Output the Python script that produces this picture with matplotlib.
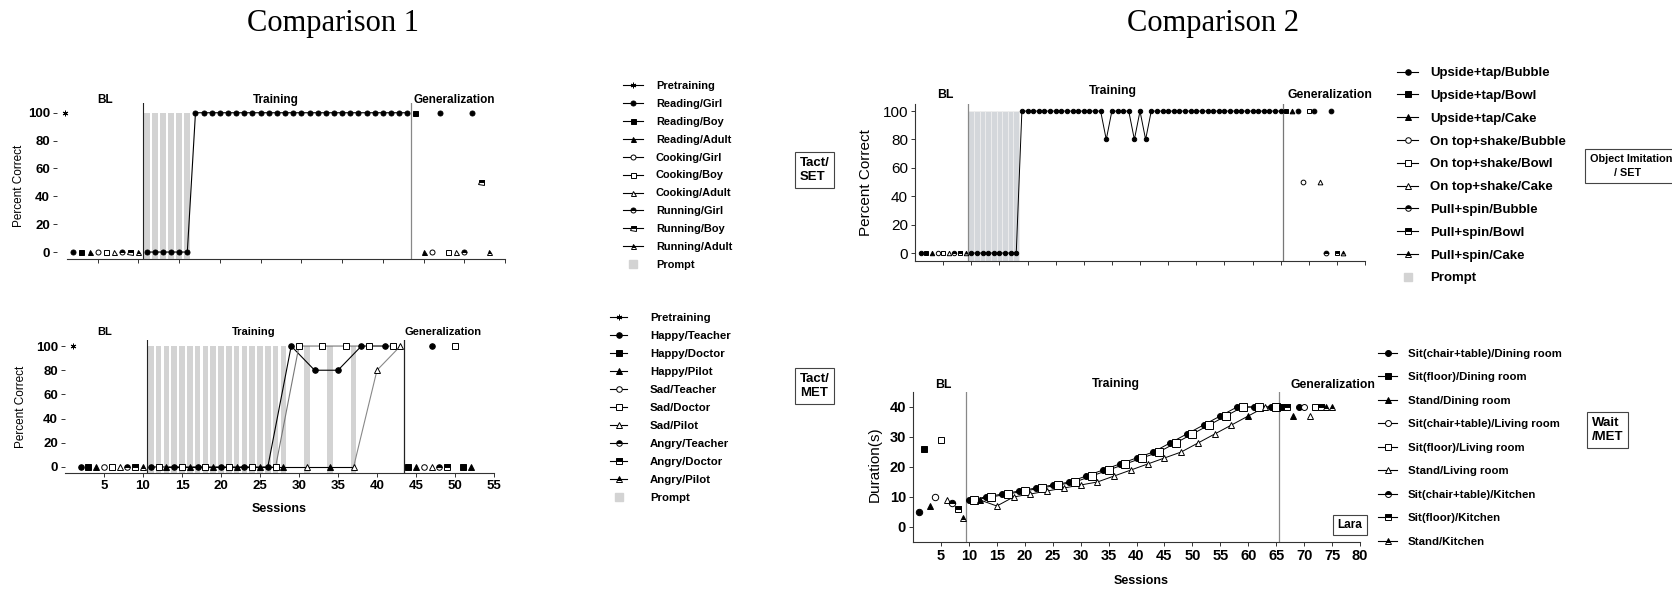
import matplotlib
matplotlib.use('Agg')
import matplotlib.pyplot as plt
from matplotlib.lines import Line2D

plt.rcParams['font.family'] = ['Liberation Sans', 'DejaVu Sans']
SANS = ['Liberation Sans', 'DejaVu Sans']
SERIF = ['Liberation Serif', 'DejaVu Serif']

W, H = 1672, 589
def fx(p): return p / W
def fy(p): return 1 - p / H

# ---------------- marker conventions (index per condition) ----------------
MARK = ['o', 's', '^', 'o', 's', '^', 'o', 's', '^']
FILL = ['full', 'full', 'full', 'none', 'none', 'none', 'half', 'half', 'half']
PROMPT_C = '#d3d3d3'

# ================= Comparison 1 - top (Tact/SET) =================
c1a_labels = ['Pretraining', 'Reading/Girl', 'Reading/Boy', 'Reading/Adult', 'Cooking/Girl',
              'Cooking/Boy', 'Cooking/Adult', 'Running/Girl', 'Running/Boy', 'Running/Adult', 'Prompt']
c1a_pre_x = [1]
c1a_pre_y = [100]
c1a_bl_x = [2, 3, 4, 5, 6, 7, 8, 9, 10]
c1a_bl_y = [0, 0, 0, 0, 0, 0, 0, 0, 0]
c1a_bl_c = [0, 1, 2, 3, 4, 5, 6, 7, 8]
c1a_tr_x = [11, 12, 13, 14, 15, 16, 17, 18, 19, 20, 21, 22, 23, 24, 25, 26, 27, 28, 29, 30,
            31, 32, 33, 34, 35, 36, 37, 38, 39, 40, 41, 42, 43]
c1a_tr_y = [0, 0, 0, 0, 0, 0, 100, 100, 100, 100, 100, 100, 100, 100, 100, 100, 100, 100, 100, 100,
            100, 100, 100, 100, 100, 100, 100, 100, 100, 100, 100, 100, 100]
c1a_gen_x = [44, 45, 46, 47, 48, 49, 50, 51, 52, 53]
c1a_gen_y = [100, 0, 0, 100, 0, 0, 0, 100, 50, 0]
c1a_gen_c = [1, 2, 3, 0, 4, 5, 6, 0, 7, 8]
c1a_prompt = [11, 12, 13, 14, 15, 16]

# ================= Comparison 1 - bottom (Tact/MET) =================
c1b_labels = ['Pretraining', 'Happy/Teacher', 'Happy/Doctor', 'Happy/Pilot', 'Sad/Teacher',
              'Sad/Doctor', 'Sad/Pilot', 'Angry/Teacher', 'Angry/Doctor', 'Angry/Pilot', 'Prompt']
c1b_pre_x = [1]
c1b_pre_y = [100]
c1b_bl_x = [2, 3, 4, 5, 6, 7, 8, 9, 10]
c1b_bl_y = [0, 0, 0, 0, 0, 0, 0, 0, 0]
c1b_bl_c = [0, 1, 2, 3, 4, 5, 6, 7, 8]
c1b_ht_x = [11, 14, 17, 20, 23, 26, 29, 32, 35, 38, 41]
c1b_ht_y = [0, 0, 0, 0, 0, 0, 100, 80, 80, 100, 100]
c1b_sd_x = [12, 15, 18, 21, 24, 27, 30, 33, 36, 39, 42]
c1b_sd_y = [0, 0, 0, 0, 0, 0, 100, 100, 100, 100, 100]
c1b_pl_x = [13, 16, 19, 22, 25, 28, 31, 34, 37, 40, 43]
c1b_pl_y = [0, 0, 0, 0, 0, 0, 0, 0, 0, 80, 100]
c1b_pl_c = [2, 2, 2, 2, 2, 2, 5, 2, 5, 5, 5]
c1b_gen_x = [44, 45, 46, 47, 47, 48, 49, 50, 51, 52]
c1b_gen_y = [0, 0, 0, 0, 100, 0, 0, 100, 0, 0]
c1b_gen_c = [1, 2, 3, 5, 0, 6, 7, 4, 1, 2]
c1b_prompt = [11, 12, 13, 14, 15, 16, 17, 18, 19, 20, 21, 22, 23, 24, 25, 26, 27, 28, 31, 34, 37]

# ================= Comparison 2 - top (Object Imitation / SET) =================
c2a_labels = ['Upside+tap/Bubble', 'Upside+tap/Bowl', 'Upside+tap/Cake', 'On top+shake/Bubble',
              'On top+shake/Bowl', 'On top+shake/Cake', 'Pull+spin/Bubble', 'Pull+spin/Bowl',
              'Pull+spin/Cake', 'Prompt']
c2a_bl_x = [1, 2, 3, 4, 5, 6, 7, 8, 9]
c2a_bl_y = [0, 0, 0, 0, 0, 0, 0, 0, 0]
c2a_bl_c = [0, 1, 2, 3, 4, 5, 6, 7, 8]
c2a_tr_x = [10, 11, 12, 13, 14, 15, 16, 17, 18, 19, 20, 21, 22, 23, 24, 25, 26, 27, 28, 29,
            30, 31, 32, 33, 34, 35, 36, 37, 38, 39, 40, 41, 42, 43, 44, 45, 46, 47, 48, 49,
            50, 51, 52, 53, 54, 55, 56, 57, 58, 59, 60, 61, 62, 63, 64, 65]
c2a_tr_y = [0, 0, 0, 0, 0, 0, 0, 0, 0, 100, 100, 100, 100, 100, 100, 100, 100, 100, 100, 100,
            100, 100, 100, 100, 80, 100, 100, 100, 100, 80, 100, 80, 100, 100, 100, 100, 100, 100, 100, 100,
            100, 100, 100, 100, 100, 100, 100, 100, 100, 100, 100, 100, 100, 100, 100, 100]
c2a_gen_x = [66, 67, 68, 69, 70, 71, 72, 73, 74, 75, 76]
c2a_gen_y = [100, 100, 100, 50, 100, 100, 50, 0, 100, 0, 0]
c2a_gen_c = [1, 2, 0, 3, 4, 0, 5, 6, 0, 7, 8]
c2a_prompt = [10, 11, 12, 13, 14, 15, 16, 17, 18]

# ================= Comparison 2 - bottom (Wait / MET) =================
c2b_labels = ['Sit(chair+table)/Dining room', 'Sit(floor)/Dining room', 'Stand/Dining room',
              'Sit(chair+table)/Living room', 'Sit(floor)/Living room', 'Stand/Living room',
              'Sit(chair+table)/Kitchen', 'Sit(floor)/Kitchen', 'Stand/Kitchen']
c2b_bl_x = [1, 2, 3, 4, 5, 6, 7, 8, 9]
c2b_bl_y = [5, 26, 7, 10, 29, 9, 8, 6, 3]
c2b_bl_c = [0, 1, 2, 3, 4, 5, 6, 7, 8]
c2b_ct_x = [10, 13, 16, 19, 22, 25, 28, 31, 34, 37, 40, 43, 46, 49, 52, 55, 58, 61, 64]
c2b_ct_y = [9, 10, 11, 12, 13, 14, 15, 17, 19, 21, 23, 25, 28, 31, 34, 37, 40, 40, 40]
c2b_fl_x = [11, 14, 17, 20, 23, 26, 29, 32, 35, 38, 41, 44, 47, 50, 53, 56, 59, 62, 65]
c2b_fl_y = [9, 10, 11, 12, 13, 14, 15, 17, 19, 21, 23, 25, 28, 31, 34, 37, 40, 40, 40]
c2b_st_x = [12, 15, 18, 21, 24, 27, 30, 33, 36, 39, 42, 45, 48, 51, 54, 57, 60, 63]
c2b_st_y = [9, 7, 10, 11, 12, 13, 14, 15, 17, 19, 21, 23, 25, 28, 31, 34, 37, 40]
c2b_st_c = [2, 5, 5, 5, 5, 5, 5, 5, 5, 5, 5, 5, 5, 5, 5, 5, 2, 5]
c2b_gen_x = [66, 67, 68, 69, 70, 71, 72, 73, 74, 75]
c2b_gen_y = [40, 40, 37, 40, 40, 37, 40, 40, 40, 40]
c2b_gen_c = [1, 7, 2, 0, 3, 5, 4, 7, 8, 8]


def style(c, ms, mew=0.7):
    st = dict(marker=MARK[c], ms=ms, mec='k', mew=mew)
    if FILL[c] == 'full':
        st['mfc'] = 'k'
    elif FILL[c] == 'none':
        st['mfc'] = 'w'
    else:
        st.update(mfc='k', fillstyle='top', markerfacecoloralt='w')
    return st


def points(ax, xs, ys, cs, ms):
    for x, y, c in zip(xs, ys, cs):
        ax.plot([x], [y], ls='none', zorder=5, clip_on=False, **style(c, ms))


def line_with(ax, xs, ys, cs, ms, color='k', lw=0.8):
    ax.plot(xs, ys, '-', color=color, lw=lw, zorder=3, clip_on=False)
    points(ax, xs, ys, cs, ms)


def handle(c, ms):
    return Line2D([0], [0], color='k', lw=0.8, **style(c, ms))


def pre_handle(ms):
    return Line2D([0], [0], color='k', lw=0.8, marker=(6, 2, 0), ms=ms, mew=0.7)


def prompt_handle(ms):
    return Line2D([0], [0], ls='none', marker='s', ms=ms, color=PROMPT_C, mec=PROMPT_C)


def setup(rect, xlim, ylim, left_spine):
    ax = fig.add_axes(rect)
    ax.set_xlim(*xlim)
    ax.set_ylim(*ylim)
    for s in ('top', 'right'):
        ax.spines[s].set_visible(False)
    ax.spines['left'].set_visible(left_spine)
    for s in ('left', 'bottom'):
        ax.spines[s].set_linewidth(0.8)
        ax.spines[s].set_color('#333333')
    ax.tick_params(direction='out', length=3, width=0.7, color='#333333', pad=2)
    ax.set_facecolor('none')
    return ax


def legend(hs, labels, x, y, size, hl, pad, ls):
    fig.legend(hs, labels, loc='upper left', bbox_to_anchor=(fx(x), fy(y)), frameon=False,
               borderpad=0, borderaxespad=0, handlelength=hl, handletextpad=pad, labelspacing=ls,
               prop=dict(weight='bold', size=size, family=SANS))


fig = plt.figure(figsize=(W / 100, H / 100), dpi=100)

fig.text(fx(333), fy(23), 'Comparison 1', ha='center', va='center', fontsize=22, family=SERIF)
fig.text(fx(1213), fy(23), 'Comparison 2', ha='center', va='center', fontsize=22, family=SERIF)

# ---------------- Comparison 1 top ----------------
ax = setup([fx(57), fy(259), 448 / W, 156 / H], (0, 55), (-5, 107), False)
ax.spines['bottom'].set_bounds(1.2, 55)
ax.bar(c1a_prompt, [100 + 5] * len(c1a_prompt), bottom=-5, width=0.72, color=PROMPT_C, zorder=1)
ax.axvline(10.5, color='#222222', lw=0.8, zorder=2)
ax.axvline(43.5, color='#888888', lw=0.9, zorder=2)
ax.plot(c1a_pre_x, c1a_pre_y, ls='none', marker=(6, 2, 0), ms=4, color='k', mew=0.7)
points(ax, c1a_bl_x, c1a_bl_y, c1a_bl_c, 3.6)
line_with(ax, c1a_tr_x, c1a_tr_y, [0] * len(c1a_tr_x), 3.6)
points(ax, c1a_gen_x, c1a_gen_y, c1a_gen_c, 3.6)
ax.set_xticks([5, 10, 15, 20, 25, 30, 35, 40, 45, 50, 55])
ax.set_xticklabels([])
ax.set_yticks([0, 20, 40, 60, 80, 100])
ax.set_yticklabels(['0', '20', '40', '60', '80', '100'], fontweight='bold', fontsize=9.5)
ax.set_ylabel('Percent Correct', fontsize=8.5, family=SANS)
ax.yaxis.set_label_coords(-0.072, 0.47)
for t, x in (('BL', 5.9), ('Training', 26.9), ('Generalization', 48.8)):
    ax.text(x, 109.5, t, ha='center', va='center', fontsize=8.5, fontweight='bold', clip_on=False)
hs = [pre_handle(4)] + [handle(c, 3.6) for c in range(9)] + [prompt_handle(6)]
legend(hs, c1a_labels, 623, 81, 7.9, 1.8, 1.2, 0.72)

# ---------------- Comparison 1 bottom ----------------
ax = setup([fx(65), fy(473), 429 / W, 133 / H], (0, 55), (-5, 105), False)
ax.bar(c1b_prompt, [100 + 5] * len(c1b_prompt), bottom=-5, width=0.72, color=PROMPT_C, zorder=1)
ax.axvline(10.5, color='#222222', lw=0.8, zorder=2)
ax.axvline(43.5, color='#222222', lw=0.9, zorder=2)
ax.plot(c1b_pre_x, c1b_pre_y, ls='none', marker=(6, 2, 0), ms=4, color='k', mew=0.7)
points(ax, c1b_bl_x, c1b_bl_y, c1b_bl_c, 4)
line_with(ax, c1b_ht_x, c1b_ht_y, [0] * len(c1b_ht_x), 4, color='k')
line_with(ax, c1b_sd_x, c1b_sd_y, [4] * len(c1b_sd_x), 4.6, color='#777777')
ax.plot(c1b_pl_x[:9], c1b_pl_y[:9], '-', color='k', lw=0.8, zorder=3)
ax.plot(c1b_pl_x[8:], c1b_pl_y[8:], '-', color='#888888', lw=0.8, zorder=3)
points(ax, c1b_pl_x, c1b_pl_y, c1b_pl_c, 4)
points(ax, c1b_gen_x, c1b_gen_y, c1b_gen_c, 4)
ax.set_xticks([5, 10, 15, 20, 25, 30, 35, 40, 45, 50, 55])
ax.set_xticklabels(['5', '10', '15', '20', '25', '30', '35', '40', '45', '50', '55'],
                   fontweight='bold', fontsize=9.5)
ax.set_yticks([0, 20, 40, 60, 80, 100])
ax.set_yticklabels(['0', '20', '40', '60', '80', '100'], fontweight='bold', fontsize=9.5)
ax.set_ylabel('Percent Correct', fontsize=8.5, family=SANS)
ax.yaxis.set_label_coords(-0.089, 0.5)
ax.set_xlabel('Sessions', fontsize=9, fontweight='bold')
ax.xaxis.set_label_coords(0.5, -0.226)
for t, x in (('BL', 5.1), ('Training', 24.2), ('Generalization', 48.5)):
    ax.text(x, 112, t, ha='center', va='center', fontsize=8, fontweight='bold', clip_on=False)
hs = [pre_handle(4)] + [handle(c, 4) for c in range(9)] + [prompt_handle(6)]
legend(hs, c1b_labels, 610, 313, 8.2, 1.5, 2.0, 0.70)

# ---------------- Comparison 2 top ----------------
ax = setup([fx(915), fy(261), 450 / W, 157 / H], (0, 80), (-5.6, 105), True)
ax.bar(c2a_prompt, [100 + 5.6] * len(c2a_prompt), bottom=-5.6, width=1.0, color='#d4d7db',
       edgecolor='#eeeeee', linewidth=0.6, zorder=1)
ax.axvline(9.5, color='#888888', lw=0.9, zorder=2)
ax.axvline(65.5, color='#777777', lw=0.9, zorder=2)
points(ax, c2a_bl_x, c2a_bl_y, c2a_bl_c, 3.2)
line_with(ax, c2a_tr_x, c2a_tr_y, [0] * len(c2a_tr_x), 3.2, lw=0.7)
points(ax, c2a_gen_x, c2a_gen_y, c2a_gen_c, 3.4)
ax.set_xticks([5, 10, 15, 20, 25, 30, 35, 40, 45, 50, 55, 60, 65, 70, 75, 80])
ax.set_xticklabels([])
ax.set_yticks([0, 20, 40, 60, 80, 100])
ax.set_yticklabels(['0', '20', '40', '60', '80', '100'], fontsize=11, family=SANS)
ax.set_ylabel('Percent Correct', fontsize=11, family=SANS)
ax.yaxis.set_label_coords(-0.093, 0.5)
for t, x, y in (('BL', 5.3, 111), ('Training', 35.2, 114), ('Generalization', 73.7, 111)):
    ax.text(x, y, t, ha='center', va='center', fontsize=8.8, fontweight='bold', clip_on=False)
hs = [handle(c, 4) for c in range(9)] + [prompt_handle(6)]
legend(hs, c2a_labels, 1397, 67, 9.5, 1.6, 0.9, 0.80)

# ---------------- Comparison 2 bottom ----------------
ax = setup([fx(913), fy(542), 447 / W, 150 / H], (0, 80), (-5, 45), True)
ax.axvline(9.5, color='#888888', lw=0.9, zorder=2)
ax.axvline(65.5, color='#888888', lw=0.9, zorder=2)
points(ax, c2b_bl_x, c2b_bl_y, c2b_bl_c, 4.6)
line_with(ax, c2b_ct_x, c2b_ct_y, [0] * len(c2b_ct_x), 4.3, lw=0.7)
line_with(ax, c2b_fl_x, c2b_fl_y, [4] * len(c2b_fl_x), 5.2, lw=0.7)
line_with(ax, c2b_st_x, c2b_st_y, c2b_st_c, 4.3, lw=0.7)
points(ax, c2b_gen_x, c2b_gen_y, c2b_gen_c, 4.3)
ax.set_xticks([5, 10, 15, 20, 25, 30, 35, 40, 45, 50, 55, 60, 65, 70, 75, 80])
ax.set_xticklabels(['5', '10', '15', '20', '25', '30', '35', '40', '45', '50', '55', '60', '65',
                    '70', '75', '80'], fontweight='bold', fontsize=10.5)
ax.set_yticks([0, 10, 20, 30, 40])
ax.set_yticklabels(['0', '10', '20', '30', '40'], fontweight='bold', fontsize=10.5)
ax.set_ylabel('Duration(s)', fontsize=11, family=SANS)
ax.yaxis.set_label_coords(-0.069, 0.52)
ax.set_xlabel('Sessions', fontsize=9, fontweight='bold')
ax.xaxis.set_label_coords(0.51, -0.22)
for t, x in (('BL', 5.4), ('Training', 36.3), ('Generalization', 75.1)):
    ax.text(x, 47.5, t, ha='center', va='center', fontsize=8.8, fontweight='bold', clip_on=False)
ax.text(78.2, 0.7, 'Lara', ha='center', va='center', fontsize=8.5, fontweight='bold', clip_on=False,
        bbox=dict(boxstyle='square,pad=0.35', fc='white', ec='#444444', lw=0.8))
hs = [handle(c, 4.3) for c in range(9)]
legend(hs, c2b_labels, 1378, 349, 8.2, 1.67, 0.96, 1.18)

# ---------------- side boxes ----------------
box = dict(boxstyle='square,pad=0.35', fc='white', ec='#444444', lw=0.8)
fig.text(fx(800), fy(170), 'Tact/\nSET', ha='left', va='center', fontsize=9.5, fontweight='bold',
         bbox=box, linespacing=1.2)
fig.text(fx(800), fy(386), 'Tact/\nMET', ha='left', va='center', fontsize=9.5, fontweight='bold',
         bbox=box, linespacing=1.2)
fig.text(fx(1590), fy(166), 'Object Imitation\n        / SET', ha='left', va='center', fontsize=7.8,
         fontweight='bold', bbox=dict(boxstyle='square,pad=0.45', fc='white', ec='#444444', lw=0.8),
         linespacing=1.55)
fig.text(fx(1592), fy(430), 'Wait\n/MET', ha='left', va='center', fontsize=9.5, fontweight='bold',
         bbox=box, linespacing=1.2)

fig.savefig('out.png', dpi=100)
